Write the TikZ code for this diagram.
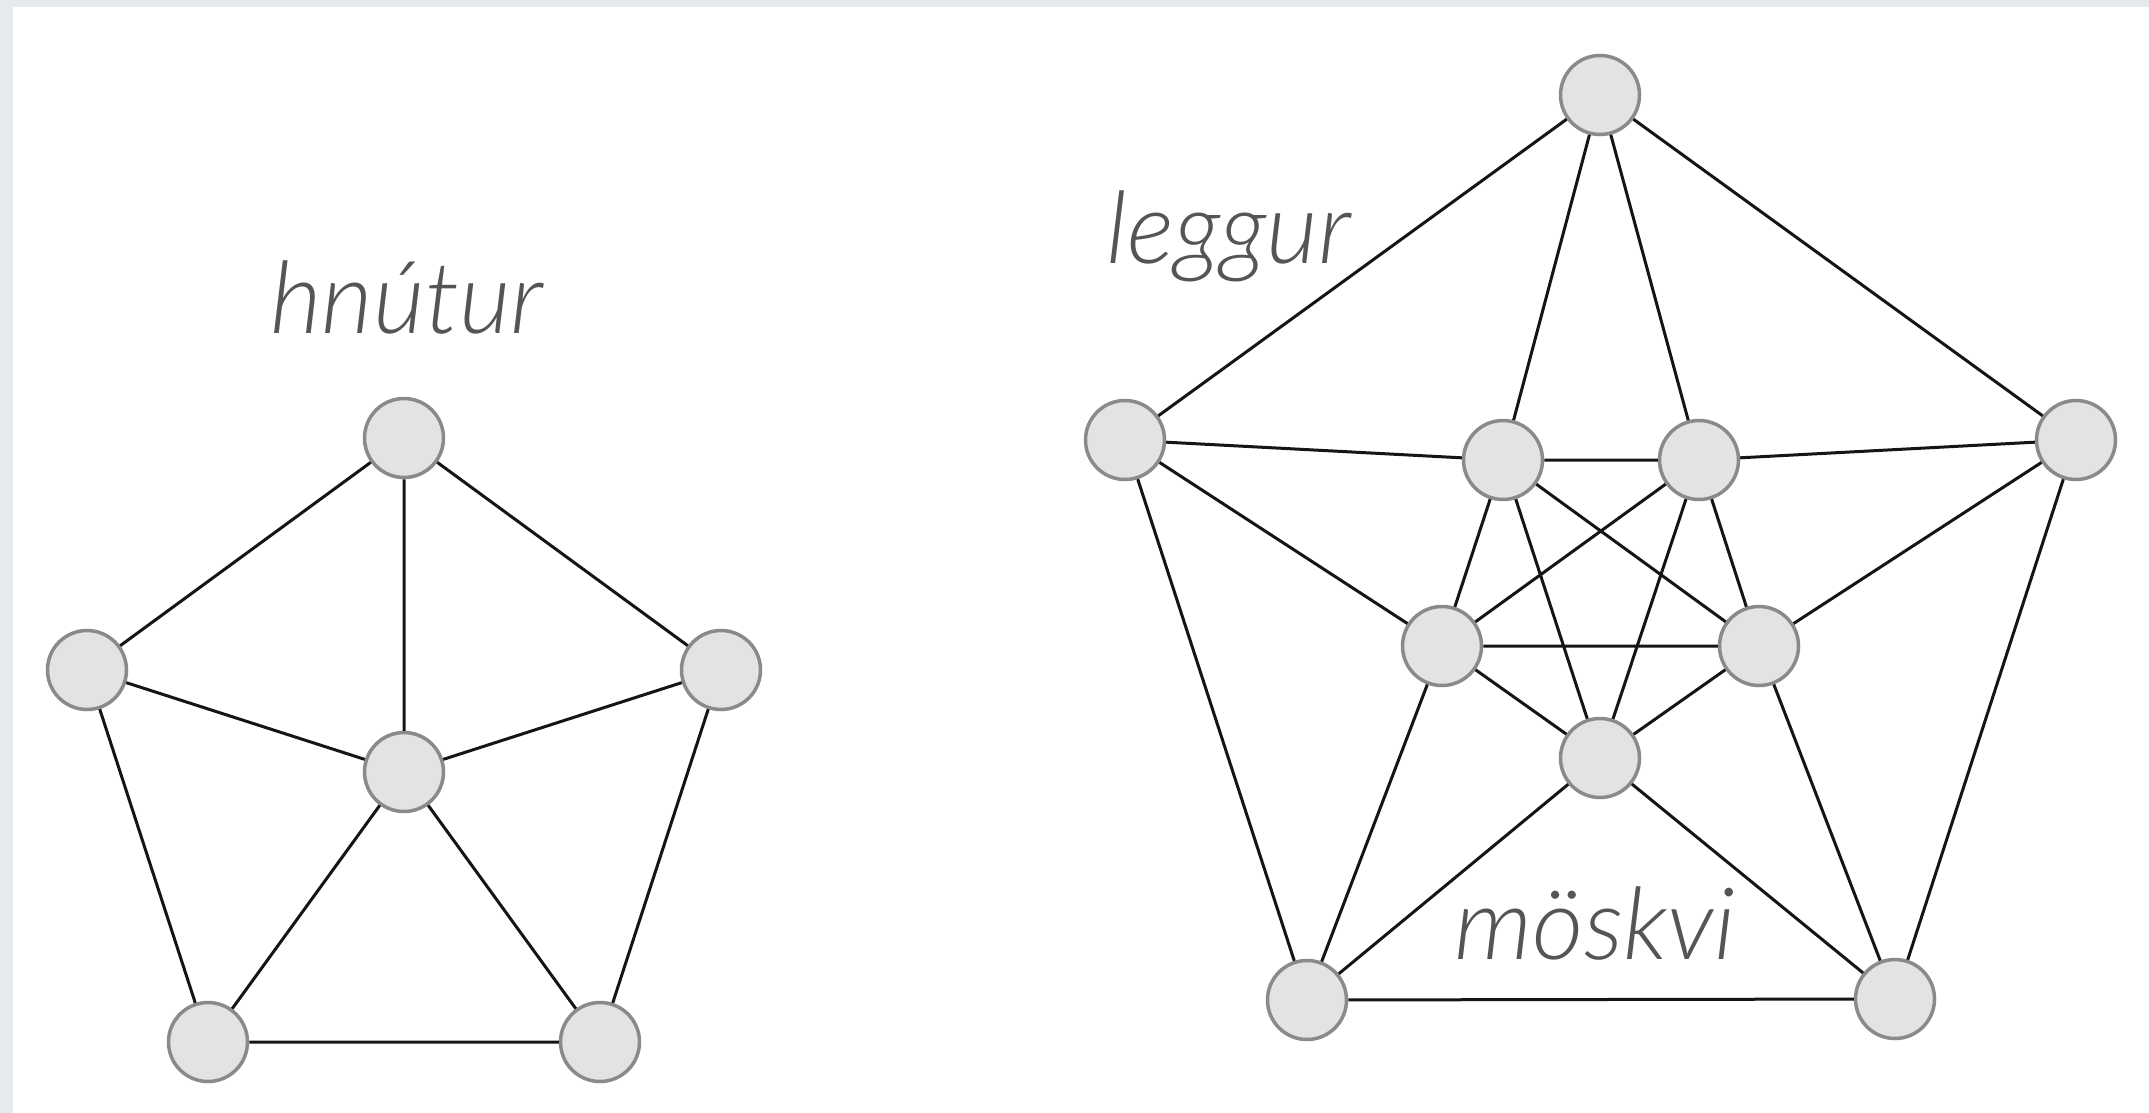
\documentclass[tikz,border=0pt]{standalone}
\usepackage{fontspec}
\newfontfamily\labfont{Lato Light Italic}
\definecolor{frame}{HTML}{E6E9ED}
\definecolor{nodefill}{HTML}{E3E3E3}
\definecolor{nodeline}{HTML}{8A8A8A}
\definecolor{edgecol}{HTML}{151515}
\definecolor{labcol}{HTML}{555555}
\tikzset{
  vtx/.style={circle, draw=nodeline, fill=nodefill, line width=3.5pt, minimum size=79pt, inner sep=0pt},
  edge/.style={draw=edgecol, line width=3pt},
  lab/.style={inner sep=0pt, anchor=base, text=labcol, font=\labfont\fontsize{100}{110}\selectfont}
}
\begin{document}
\begin{tikzpicture}[x=1pt, y=-1pt]
\useasboundingbox (0,0) rectangle (2149,1113);
\fill[frame] (0,0) rectangle (2149,1113);
\fill[white] (13,7) rectangle (2149,1113);
% left graph
\node[vtx] (a1) at (404,438) {};
\node[vtx] (a2) at (87,670) {};
\node[vtx] (a3) at (721,670) {};
\node[vtx] (a0) at (404,772) {};
\node[vtx] (a4) at (208,1042) {};
\node[vtx] (a5) at (600,1042) {};
\path[edge] (a1) -- (a2) (a1) -- (a3) (a1) -- (a0)
  (a2) -- (a0) (a3) -- (a0) (a2) -- (a4) (a3) -- (a5)
  (a4) -- (a0) (a5) -- (a0) (a4) -- (a5);
% right graph
\node[vtx] (t) at (1600,95) {};
\node[vtx] (l) at (1125,440) {};
\node[vtx] (r) at (2076,440) {};
\node[vtx] (bl) at (1307,1000) {};
\node[vtx] (br) at (1895,999) {};
\node[vtx] (itl) at (1503,460) {};
\node[vtx] (itr) at (1699,460) {};
\node[vtx] (iml) at (1442,646) {};
\node[vtx] (imr) at (1759,646) {};
\node[vtx] (ib) at (1600,758) {};
\path[edge] (t) -- (l) (l) -- (bl) (bl) -- (br) (br) -- (r) (r) -- (t)
  (t) -- (itl) (t) -- (itr)
  (l) -- (itl) (l) -- (iml)
  (r) -- (itr) (r) -- (imr)
  (bl) -- (iml) (bl) -- (ib)
  (br) -- (imr) (br) -- (ib)
  (itl) -- (itr) (itl) -- (iml) (itl) -- (ib) (itl) -- (imr)
  (itr) -- (iml) (itr) -- (ib) (itr) -- (imr)
  (iml) -- (imr) (iml) -- (ib) (imr) -- (ib);
% labels
\node[lab] (hn) at (407,333) {hnútur};
\node[lab] (lg) at (1229,263) {leggur};
\node[lab] (mo) at (1595,959) {möskvi};
\end{tikzpicture}
\end{document}
